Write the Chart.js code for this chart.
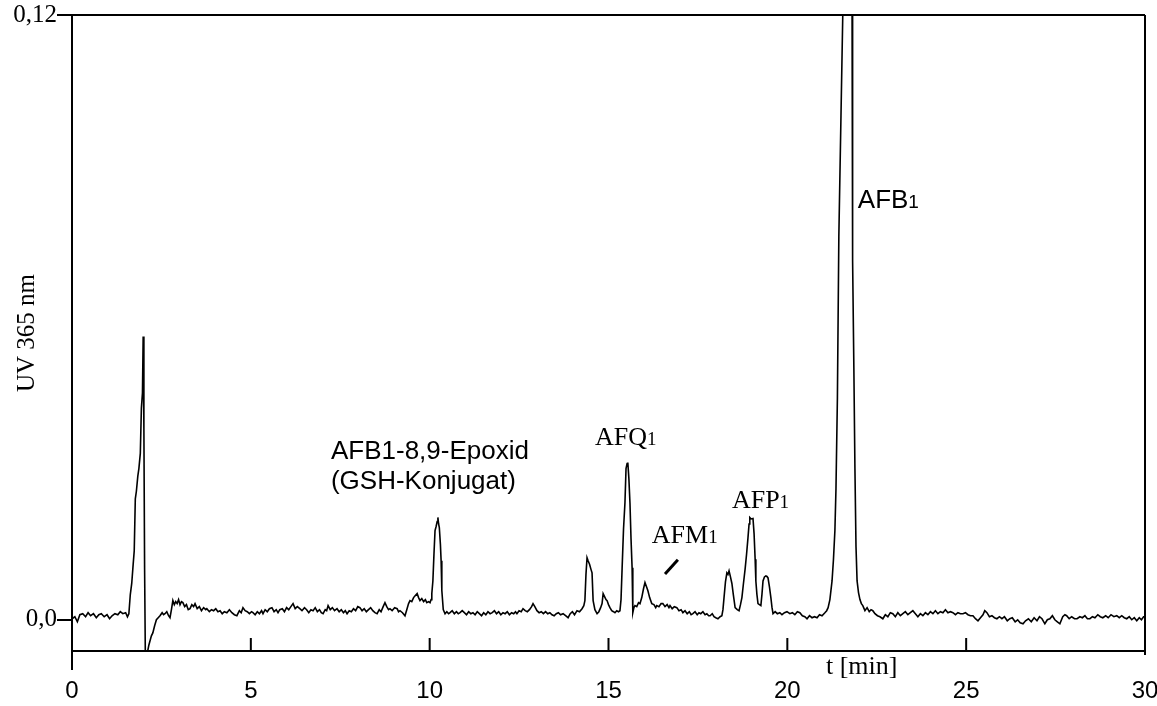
<!DOCTYPE html>
<html>
<head>
<meta charset="utf-8">
<script src="https://cdn.jsdelivr.net/npm/chart.js@4.4.0/dist/chart.umd.min.js"></script>
<style>
  body { margin: 0; background: #fff; }
  canvas { display: block; }
</style>
</head>
<body>
<canvas id="hplc" width="1157" height="706"></canvas>
<script>
// HPLC trace, UV 365 nm, [time (min), absorbance]
const trace = [
  [0.00,0.0002],[0.08,0.0006],[0.15,-0.0004],[0.22,0.0010],[0.30,0.0012],[0.38,0.0006],[0.45,0.0014],[0.52,0.0008],
  [0.60,0.0012],[0.68,0.0004],[0.75,0.0010],[0.82,0.0012],[0.90,0.0006],[0.98,0.0010],[1.05,0.0002],[1.12,0.0008],
  [1.20,0.0012],[1.28,0.0010],[1.35,0.0016],[1.42,0.0012],[1.50,0.0014],[1.55,0.0006],[1.59,0.0012],[1.63,0.0050],
  [1.67,0.0072],[1.71,0.0110],[1.74,0.0137],[1.77,0.0240],[1.80,0.0255],[1.84,0.0285],[1.87,0.0300],[1.91,0.0330],
  [1.94,0.0420],[1.97,0.0450],[1.99,0.0562],[2.01,0.0380],[2.03,0.0100],[2.05,-0.0068],[2.10,-0.0068],[2.15,-0.0050],
  [2.18,-0.0042],[2.22,-0.0032],[2.26,-0.0026],[2.31,-0.0012],[2.36,0.0000],[2.41,0.0004],[2.46,0.0008],[2.52,0.0014],
  [2.56,0.0010],[2.60,0.0012],[2.65,0.0016],[2.70,0.0008],[2.74,0.0004],[2.78,0.0020],[2.82,0.0038],[2.86,0.0030],
  [2.90,0.0036],[2.94,0.0032],[2.98,0.0040],[3.02,0.0030],[3.06,0.0036],[3.10,0.0034],[3.15,0.0026],[3.20,0.0030],
  [3.25,0.0020],[3.30,0.0022],[3.35,0.0030],[3.40,0.0026],[3.44,0.0032],[3.50,0.0022],[3.56,0.0026],[3.62,0.0018],
  [3.68,0.0024],[3.74,0.0020],[3.77,0.0022],[3.84,0.0016],[3.90,0.0020],[3.96,0.0018],[4.02,0.0022],[4.08,0.0016],
  [4.14,0.0018],[4.20,0.0012],[4.26,0.0016],[4.33,0.0014],[4.40,0.0020],[4.47,0.0014],[4.54,0.0010],[4.61,0.0008],
  [4.68,0.0018],[4.73,0.0014],[4.78,0.0024],[4.84,0.0018],[4.90,0.0016],[4.96,0.0012],[5.02,0.0016],[5.06,0.0014],
  [5.12,0.0010],[5.18,0.0016],[5.24,0.0012],[5.30,0.0018],[5.34,0.0012],[5.40,0.0020],[5.46,0.0016],[5.52,0.0022],
  [5.59,0.0024],[5.65,0.0016],[5.71,0.0020],[5.76,0.0014],[5.81,0.0020],[5.88,0.0022],[5.94,0.0016],[6.00,0.0024],
  [6.06,0.0020],[6.12,0.0026],[6.18,0.0032],[6.24,0.0022],[6.30,0.0026],[6.37,0.0022],[6.43,0.0018],[6.50,0.0024],
  [6.56,0.0020],[6.62,0.0014],[6.68,0.0020],[6.74,0.0018],[6.80,0.0024],[6.86,0.0016],[6.92,0.0020],[6.97,0.0014],
  [7.02,0.0012],[7.08,0.0020],[7.12,0.0018],[7.16,0.0028],[7.22,0.0020],[7.28,0.0024],[7.34,0.0018],[7.41,0.0022],
  [7.47,0.0016],[7.53,0.0020],[7.59,0.0014],[7.64,0.0018],[7.69,0.0012],[7.75,0.0018],[7.81,0.0016],[7.87,0.0022],
  [7.93,0.0018],[7.99,0.0026],[8.05,0.0024],[8.11,0.0018],[8.17,0.0022],[8.23,0.0016],[8.29,0.0020],[8.35,0.0024],
  [8.41,0.0018],[8.47,0.0014],[8.53,0.0012],[8.59,0.0020],[8.64,0.0016],[8.70,0.0026],[8.75,0.0034],[8.80,0.0026],
  [8.85,0.0020],[8.89,0.0022],[8.95,0.0018],[9.02,0.0024],[9.09,0.0022],[9.13,0.0016],[9.17,0.0018],[9.24,0.0014],
  [9.31,0.0008],[9.36,0.0020],[9.41,0.0032],[9.45,0.0038],[9.50,0.0036],[9.55,0.0044],[9.60,0.0048],[9.65,0.0052],
  [9.69,0.0044],[9.73,0.0038],[9.78,0.0042],[9.83,0.0036],[9.88,0.0040],[9.92,0.0034],[9.97,0.0036],[10.01,0.0034],
  [10.04,0.0040],[10.06,0.0052],[10.09,0.0077],[10.12,0.0130],[10.15,0.0177],[10.18,0.0185],[10.21,0.0195],[10.23,0.0203],
  [10.25,0.0190],[10.27,0.0183],[10.30,0.0150],[10.32,0.0117],[10.34,0.0058],[10.38,0.0020],[10.43,0.0012],[10.48,0.0016],
  [10.53,0.0012],[10.57,0.0014],[10.63,0.0018],[10.69,0.0012],[10.75,0.0016],[10.80,0.0012],[10.85,0.0014],[10.91,0.0018],
  [10.97,0.0014],[11.03,0.0010],[11.09,0.0016],[11.15,0.0012],[11.21,0.0014],[11.27,0.0010],[11.33,0.0016],[11.39,0.0012],
  [11.45,0.0008],[11.51,0.0014],[11.57,0.0010],[11.63,0.0016],[11.69,0.0012],[11.75,0.0014],[11.81,0.0018],[11.87,0.0012],
  [11.93,0.0016],[11.99,0.0010],[12.05,0.0014],[12.11,0.0012],[12.17,0.0016],[12.23,0.0010],[12.29,0.0014],[12.35,0.0012],
  [12.40,0.0016],[12.44,0.0012],[12.50,0.0018],[12.56,0.0016],[12.61,0.0022],[12.67,0.0018],[12.73,0.0016],[12.79,0.0020],
  [12.85,0.0026],[12.89,0.0032],[12.94,0.0026],[13.00,0.0018],[13.06,0.0014],[13.12,0.0016],[13.18,0.0012],[13.24,0.0016],
  [13.30,0.0012],[13.36,0.0014],[13.42,0.0010],[13.48,0.0008],[13.54,0.0012],[13.60,0.0014],[13.66,0.0010],[13.73,0.0012],
  [13.80,0.0008],[13.87,0.0004],[13.93,0.0012],[13.99,0.0016],[14.05,0.0010],[14.12,0.0018],[14.19,0.0016],[14.26,0.0022],
  [14.31,0.0028],[14.34,0.0038],[14.37,0.0090],[14.40,0.0123],[14.43,0.0117],[14.47,0.0110],[14.51,0.0100],[14.54,0.0093],
  [14.57,0.0038],[14.62,0.0020],[14.68,0.0012],[14.73,0.0016],[14.78,0.0024],[14.82,0.0032],[14.85,0.0052],[14.89,0.0046],
  [14.93,0.0040],[14.96,0.0038],[15.00,0.0030],[15.04,0.0024],[15.09,0.0018],[15.14,0.0016],[15.18,0.0014],[15.23,0.0018],
  [15.28,0.0016],[15.32,0.0018],[15.35,0.0040],[15.38,0.0101],[15.42,0.0180],[15.46,0.0232],[15.49,0.0300],[15.52,0.0310],
  [15.54,0.0312],[15.57,0.0280],[15.60,0.0232],[15.63,0.0160],[15.66,0.0103],[15.68,0.0014],[15.71,0.0024],[15.74,0.0028],
  [15.79,0.0026],[15.84,0.0034],[15.88,0.0032],[15.93,0.0044],[15.98,0.0062],[16.02,0.0074],[16.06,0.0066],[16.10,0.0058],
  [16.15,0.0044],[16.21,0.0032],[16.27,0.0030],[16.32,0.0024],[16.35,0.0028],[16.41,0.0026],[16.47,0.0032],[16.52,0.0032],
  [16.58,0.0026],[16.64,0.0030],[16.69,0.0024],[16.72,0.0028],[16.78,0.0022],[16.84,0.0026],[16.91,0.0024],[16.97,0.0018],
  [17.03,0.0020],[17.08,0.0014],[17.14,0.0018],[17.20,0.0012],[17.26,0.0016],[17.31,0.0010],[17.36,0.0012],[17.42,0.0016],
  [17.48,0.0010],[17.53,0.0014],[17.58,0.0012],[17.64,0.0016],[17.70,0.0010],[17.75,0.0012],[17.80,0.0008],[17.84,0.0008],
  [17.90,0.0012],[17.95,0.0006],[18.00,0.0004],[18.06,0.0002],[18.12,0.0006],[18.17,0.0008],[18.20,0.0020],[18.23,0.0044],
  [18.27,0.0075],[18.31,0.0093],[18.34,0.0090],[18.37,0.0097],[18.41,0.0085],[18.45,0.0072],[18.49,0.0050],[18.54,0.0024],
  [18.60,0.0020],[18.65,0.0018],[18.69,0.0030],[18.73,0.0044],[18.77,0.0070],[18.82,0.0101],[18.86,0.0130],[18.90,0.0163],
  [18.93,0.0190],[18.95,0.0203],[18.99,0.0200],[19.04,0.0201],[19.07,0.0171],[19.10,0.0120],[19.12,0.0077],[19.15,0.0050],
  [19.18,0.0032],[19.22,0.0030],[19.26,0.0028],[19.29,0.0050],[19.32,0.0077],[19.36,0.0085],[19.40,0.0087],[19.43,0.0086],
  [19.46,0.0083],[19.50,0.0065],[19.54,0.0044],[19.57,0.0025],[19.60,0.0012],[19.66,0.0016],[19.72,0.0012],[19.79,0.0014],
  [19.85,0.0010],[19.92,0.0014],[19.99,0.0016],[20.07,0.0012],[20.14,0.0014],[20.21,0.0010],[20.28,0.0016],[20.35,0.0014],
  [20.42,0.0008],[20.49,0.0006],[20.55,0.0002],[20.62,0.0008],[20.69,0.0004],[20.76,0.0006],[20.83,0.0004],[20.90,0.0010],
  [20.97,0.0008],[21.05,0.0014],[21.10,0.0018],[21.14,0.0024],[21.19,0.0040],[21.25,0.0077],[21.29,0.0120],[21.33,0.0177],
  [21.36,0.0260],[21.40,0.0440],[21.44,0.0760],[21.50,0.1000],[21.55,0.1200],[21.62,0.1350],[21.68,0.1400],[21.75,0.1320],
  [21.81,0.1200],[21.82,0.1041],[21.83,0.0713],[21.86,0.0500],[21.89,0.0300],[21.92,0.0145],[21.95,0.0077],[21.99,0.0054],
  [22.03,0.0040],[22.07,0.0032],[22.11,0.0028],[22.17,0.0018],[22.23,0.0024],[22.29,0.0016],[22.34,0.0020],[22.39,0.0018],
  [22.45,0.0012],[22.52,0.0008],[22.59,0.0006],[22.67,0.0002],[22.74,0.0010],[22.81,0.0006],[22.88,0.0014],[22.95,0.0012],
  [23.02,0.0006],[23.09,0.0014],[23.16,0.0008],[23.23,0.0012],[23.30,0.0016],[23.37,0.0010],[23.44,0.0014],[23.51,0.0018],
  [23.58,0.0012],[23.65,0.0006],[23.72,0.0012],[23.79,0.0008],[23.86,0.0014],[23.93,0.0010],[24.00,0.0016],[24.07,0.0012],
  [24.14,0.0018],[24.21,0.0012],[24.28,0.0016],[24.35,0.0014],[24.42,0.0020],[24.49,0.0014],[24.56,0.0016],[24.63,0.0014],
  [24.70,0.0010],[24.77,0.0014],[24.84,0.0012],[24.91,0.0012],[24.98,0.0014],[25.05,0.0010],[25.12,0.0008],[25.19,0.0008],
  [25.26,0.0002],[25.33,-0.0002],[25.40,0.0004],[25.47,0.0010],[25.52,0.0018],[25.58,0.0014],[25.65,0.0006],[25.72,0.0008],
  [25.79,0.0004],[25.86,0.0002],[25.93,0.0006],[26.00,0.0002],[26.07,0.0006],[26.15,-0.0002],[26.22,0.0002],[26.29,0.0004],
  [26.37,-0.0004],[26.44,0.0000],[26.51,-0.0006],[26.59,-0.0008],[26.66,-0.0002],[26.74,0.0002],[26.82,-0.0004],[26.90,0.0004],
  [26.98,-0.0002],[27.05,0.0006],[27.12,0.0002],[27.20,-0.0008],[27.27,0.0000],[27.34,0.0002],[27.41,0.0008],[27.48,0.0000],
  [27.55,-0.0004],[27.62,-0.0008],[27.70,0.0006],[27.76,0.0010],[27.81,0.0008],[27.88,0.0002],[27.95,0.0006],[28.03,0.0002],
  [28.10,0.0002],[28.18,0.0006],[28.25,0.0004],[28.32,0.0008],[28.39,0.0002],[28.46,0.0002],[28.53,0.0006],[28.60,0.0004],
  [28.68,0.0010],[28.75,0.0006],[28.82,0.0004],[28.90,0.0008],[28.97,0.0004],[29.05,0.0010],[29.13,0.0006],[29.21,0.0008],
  [29.28,0.0004],[29.35,0.0008],[29.42,0.0004],[29.49,0.0002],[29.56,0.0006],[29.63,0.0000],[29.70,0.0004],[29.77,-0.0002],
  [29.84,0.0004],[29.90,0.0000],[29.96,0.0006],[30.00,0.0006]
];

const xTicks = [0, 5, 10, 15, 20, 25, 30];
const yTicks = [0, 0.12];
const yTickText = ['0,0', '0,12'];

// peak labels: main text, small "1", left edge (min), baseline (AU), font family
const peakText = ['AFQ', 'AFM', 'AFP', 'AFB'];
const peakSub = ['1', '1', '1', '1'];
const peakT = [14.62, 16.21, 18.45, 21.97];
const peakY = [0.0346, 0.0153, 0.0221, 0.0817];
const peakSerif = [true, true, true, false];

const serif = '"Liberation Serif", "DejaVu Serif", serif';
const sans = '"Liberation Sans", Arial, sans-serif';

const extras = {
  id: 'extras',
  afterDraw(chart) {
    const ctx = chart.ctx;
    const a = chart.chartArea;
    const xs = chart.scales.x, ys = chart.scales.y;
    ctx.save();
    ctx.strokeStyle = '#000';
    ctx.fillStyle = '#000';
    ctx.lineWidth = 2;
    // frame
    ctx.beginPath();
    ctx.moveTo(a.left, a.top); ctx.lineTo(a.left, a.bottom + 19);
    ctx.moveTo(a.left, a.bottom); ctx.lineTo(a.right, a.bottom);
    ctx.moveTo(a.left, a.top); ctx.lineTo(a.right, a.top);
    ctx.moveTo(a.right, a.top); ctx.lineTo(a.right, a.bottom + 4);
    // x ticks pointing up
    xs.ticks.forEach(t => {
      if (t.value === 0 || t.value === 30) return;
      const px = xs.getPixelForValue(t.value);
      ctx.moveTo(px, a.bottom); ctx.lineTo(px, a.bottom - 13);
    });
    ctx.stroke();

    // Epoxid label
    ctx.textBaseline = 'alphabetic';
    ctx.textAlign = 'left';
    ctx.font = '26px ' + sans;
    const ex = xs.getPixelForValue(7.24);
    ctx.fillText('AFB1-8,9-Epoxid', ex, ys.getPixelForValue(0.0318));
    ctx.fillText('(GSH-Konjugat)', ex, ys.getPixelForValue(0.0260));

    // peak labels with small 1
    peakText.forEach((s, i) => {
      const fam = peakSerif[i] ? serif : sans;
      const px = xs.getPixelForValue(peakT[i]);
      const py = ys.getPixelForValue(peakY[i]);
      ctx.font = '26px ' + fam;
      ctx.fillText(s, px, py);
      const w = ctx.measureText(s).width;
      ctx.font = '19px ' + fam;
      ctx.fillText(peakSub[i], px + w, py);
    });

    // AFM1 marker stroke
    ctx.lineWidth = 3;
    ctx.beginPath();
    ctx.moveTo(xs.getPixelForValue(16.58), ys.getPixelForValue(0.0091));
    ctx.lineTo(xs.getPixelForValue(16.94), ys.getPixelForValue(0.0119));
    ctx.stroke();

    // x axis name
    ctx.font = '26px ' + serif;
    ctx.fillText('t [min]', xs.getPixelForValue(21.08), a.bottom + 23);
    ctx.restore();
  }
};

new Chart(document.getElementById('hplc'), {
  type: 'scatter',
  data: {
    datasets: [{
      data: trace.map(p => ({ x: p[0], y: p[1] })),
      showLine: true,
      borderColor: '#000',
      borderWidth: 1.6,
      pointRadius: 0,
      tension: 0
    }]
  },
  options: {
    responsive: false,
    animation: false,
    layout: { padding: { left: 0, top: 15, right: 12, bottom: 0 } },
    plugins: { legend: { display: false }, tooltip: { enabled: false } },
    scales: {
      x: {
        type: 'linear',
        min: 0,
        max: 30,
        afterBuildTicks: s => { s.ticks = xTicks.map(v => ({ value: v })); },
        afterFit: s => { s.height = 55; s.paddingLeft = 0; s.paddingRight = 0; },
        grid: { display: false, drawTicks: false },
        border: { display: false },
        ticks: {
          autoSkip: false,
          maxRotation: 0,
          padding: 26,
          color: '#000',
          font: { family: sans, size: 24 }
        }
      },
      y: {
        min: -0.0062,
        max: 0.12,
        afterBuildTicks: s => { s.ticks = yTicks.map(v => ({ value: v })); },
        afterFit: s => { s.width = 72; s.paddingTop = 0; s.paddingBottom = 0; },
        grid: { display: true, drawOnChartArea: false, drawTicks: true, tickLength: 15, color: '#000', lineWidth: 2 },
        border: { display: false },
        ticks: {
          padding: 0,
          color: '#000',
          font: { family: serif, size: 25 },
          callback: v => yTickText[yTicks.indexOf(v)]
        },
        title: {
          display: true,
          text: 'UV 365 nm',
          color: '#000',
          font: { family: serif, size: 25 },
          padding: { top: 12, bottom: 0 }
        }
      }
    }
  },
  plugins: [extras]
});
</script>
</body>
</html>
